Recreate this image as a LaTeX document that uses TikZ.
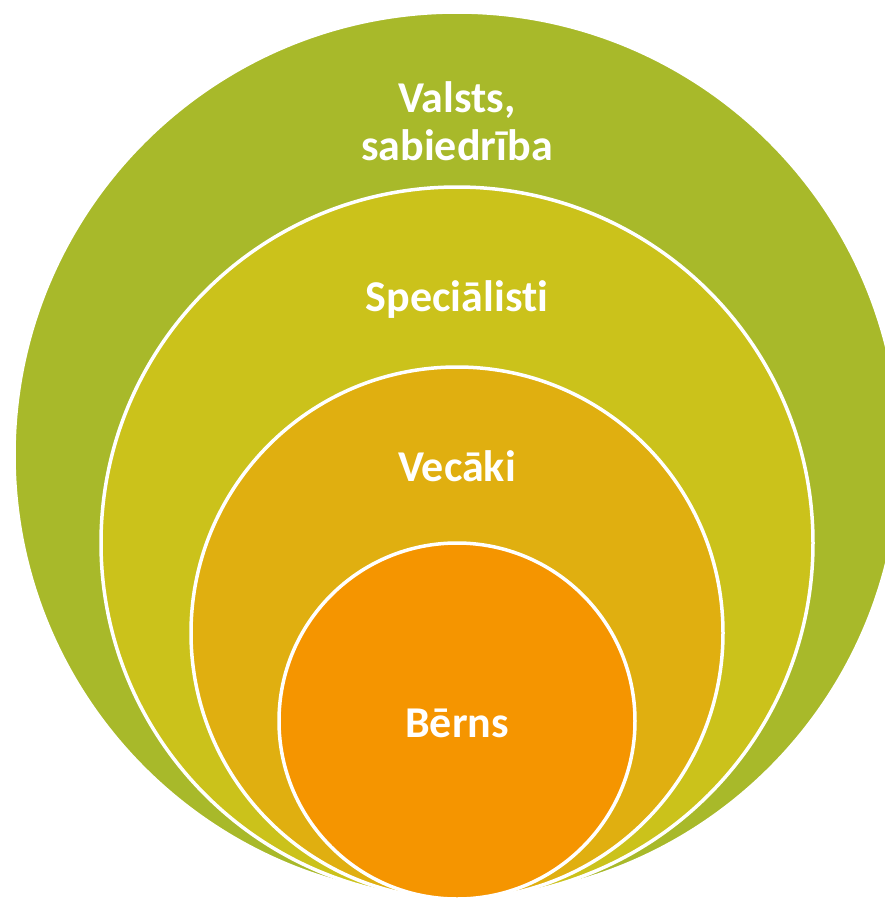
\documentclass[tikz,border=0pt]{standalone}
\usepackage{fontspec}
\setmainfont{Carlito}[Ligatures=NoCommon]
\usepackage{tikz}
\definecolor{valstsgreen}{RGB}{168,185,42}
\definecolor{specyellow}{RGB}{203,194,27}
\definecolor{vecakigold}{RGB}{224,175,16}
\definecolor{bernsorange}{RGB}{245,149,0}

\begin{document}
\begin{tikzpicture}[x=1pt,y=-1pt,
  ring/.style={circle,draw=white,line width=3.5pt,inner sep=0pt,outer sep=0pt},
  ringtext/.style={anchor=base,text=white,align=center,
    font=\fontsize{44}{48}\selectfont\bfseries}]
\useasboundingbox (0,0) rectangle (885,898);
\clip (0,0) rectangle (885,898);
\node[ring,fill=valstsgreen,minimum size=886pt] (valsts) at (457,455) {};
\node[ring,fill=specyellow,minimum size=712pt] (specialisti) at (457,543) {};
\node[ring,fill=vecakigold,minimum size=532pt] (vecaki) at (457,633) {};
\node[ring,fill=bernsorange,minimum size=356pt] (berns) at (457,721) {};
\node[ringtext] (valststext) at (457,160) {Valsts,\\sabiedrība};
\node[ringtext] (spectext) at (457,311) {Speciālisti};
\node[ringtext] (vecakitext) at (457,481) {Vecāki};
\node[ringtext] (bernstext) at (457,737) {Bērns};
\end{tikzpicture}
\end{document}
